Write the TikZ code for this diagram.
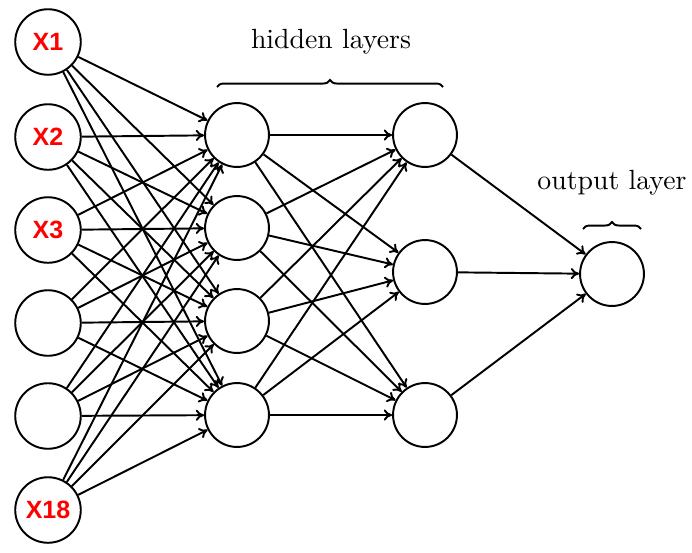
\documentclass[tikz,border=0pt]{standalone}
\usepackage{fontspec}
\newfontfamily\labelfont{Liberation Sans}
\usetikzlibrary{arrows.meta, decorations.pathreplacing}

\begin{document}
\begin{tikzpicture}[
    x=0.36pt, y=-0.36pt,
    neuron/.style={draw, circle, line width=0.7pt, minimum size=23pt, inner sep=0pt, fill=white},
    inneuron/.style={neuron, minimum size=23.6pt, font=\labelfont\bfseries\fontsize{9}{10}\selectfont, text=red},
    conn/.style={-{To[length=3pt,width=4pt]}, line width=0.7pt},
    brace/.style={decorate, decoration={brace, amplitude=2.5pt}, line width=0.7pt}
]
    \useasboundingbox (0,0) rectangle (692,552);

    % Input layer
    \node[inneuron] (in1) at (48,42) {X1};
    \node[inneuron] (in2) at (48,137) {X2};
    \node[inneuron] (in3) at (48,230) {X3};
    \node[inneuron] (in4) at (48,323) {};
    \node[inneuron] (in5) at (48,416) {};
    \node[inneuron] (in6) at (48,510) {X18};

    % Hidden layers
    \node[neuron] (ha1) at (237,135) {};
    \node[neuron] (ha2) at (237,228) {};
    \node[neuron] (ha3) at (237,321) {};
    \node[neuron] (ha4) at (237,415) {};

    \node[neuron] (hb1) at (425,135) {};
    \node[neuron] (hb2) at (425,272) {};
    \node[neuron] (hb3) at (425,415) {};

    % Output layer
    \node[neuron] (out) at (612,274) {};

    % Input -> first hidden layer
    \draw[conn] (in1) -- (ha1);
    \draw[conn] (in1) -- (ha2);
    \draw[conn] (in1) -- (ha3);
    \draw[conn] (in1) -- (ha4);
    \draw[conn] (in2) -- (ha1);
    \draw[conn] (in2) -- (ha2);
    \draw[conn] (in2) -- (ha3);
    \draw[conn] (in2) -- (ha4);
    \draw[conn] (in3) -- (ha1);
    \draw[conn] (in3) -- (ha2);
    \draw[conn] (in3) -- (ha3);
    \draw[conn] (in3) -- (ha4);
    \draw[conn] (in4) -- (ha1);
    \draw[conn] (in4) -- (ha2);
    \draw[conn] (in4) -- (ha3);
    \draw[conn] (in4) -- (ha4);
    \draw[conn] (in5) -- (ha1);
    \draw[conn] (in5) -- (ha2);
    \draw[conn] (in5) -- (ha3);
    \draw[conn] (in5) -- (ha4);
    \draw[conn] (in6) -- (ha1);
    \draw[conn] (in6) -- (ha2);
    \draw[conn] (in6) -- (ha3);
    \draw[conn] (in6) -- (ha4);

    % First -> second hidden layer
    \draw[conn] (ha1) -- (hb1);
    \draw[conn] (ha1) -- (hb2);
    \draw[conn] (ha1) -- (hb3);
    \draw[conn] (ha2) -- (hb1);
    \draw[conn] (ha2) -- (hb2);
    \draw[conn] (ha2) -- (hb3);
    \draw[conn] (ha3) -- (hb1);
    \draw[conn] (ha3) -- (hb2);
    \draw[conn] (ha3) -- (hb3);
    \draw[conn] (ha4) -- (hb1);
    \draw[conn] (ha4) -- (hb2);
    \draw[conn] (ha4) -- (hb3);

    % Second hidden -> output
    \draw[conn] (hb1) -- (out);
    \draw[conn] (hb2) -- (out);
    \draw[conn] (hb3) -- (out);

    % Braces and labels
    \coordinate (hbl) at (217,87);
    \coordinate (hbr) at (443,87);
    \draw[brace] (hbl) -- (hbr);
    \node (hlabel) at (331,42) {hidden layers};

    \coordinate (obl) at (583,229);
    \coordinate (obr) at (641,229);
    \draw[brace] (obl) -- (obr);
    \node (olabel) at (612,183) {output layer};

\end{tikzpicture}
\end{document}
